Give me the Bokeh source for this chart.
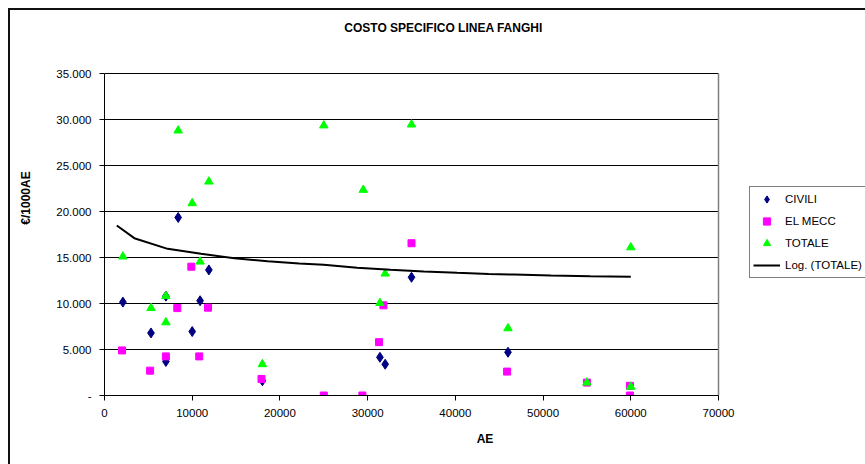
from bokeh.plotting import figure
from bokeh.models import (FixedTicker, Legend, LegendItem, Range1d, InlineStyleSheet, Label)
from bokeh.embed import file_html
from bokeh.resources import INLINE

# ---- data ----
civili_x = [2100, 5300, 7000, 7000, 8400, 10000, 10900, 11900, 18000, 31400, 32000, 35000, 46000]
civili_y = [10150, 6800, 10800, 3700, 19350, 6950, 10300, 13650, 1600, 4150, 3400, 12850, 4700]

elmecc_x = [2000, 5200, 7000, 8300, 9900, 10800, 11800, 17900, 25000, 29400, 31300, 31800, 35000,
            45900, 55000, 59900, 59900]
elmecc_y = [4900, 2700, 4250, 9500, 14000, 4250, 9550, 1800, 0, 0, 5800, 9800, 16550,
            2600, 1400, 1050, 0]

totale_x = [2100, 5300, 7000, 7000, 8400, 10000, 10900, 11900, 18000, 25000, 29500, 31400, 32000,
            35000, 46000, 55000, 60000, 60000]
totale_y = [15100, 9500, 10800, 7950, 28800, 20900, 14550, 23250, 3400, 29350, 22350, 10050, 13250,
            29450, 7300, 1400, 16100, 950]

trend_x = [1400, 3400, 7200, 11000, 14800, 18600, 22200, 25000, 28800, 32600, 36400, 40200,
           43800, 46700, 50900, 55400, 60000]
trend_y = [18480, 17100, 15940, 15400, 14920, 14600, 14350, 14200, 13880, 13660, 13480, 13330,
           13200, 13150, 13040, 12970, 12900]

y_ticks = [0, 5000, 10000, 15000, 20000, 25000, 30000, 35000]
y_tick_labels = ["-", "5.000", "10.000", "15.000", "20.000", "25.000", "30.000", "35.000"]
x_ticks = [0, 10000, 20000, 30000, 40000, 50000, 60000, 70000]

title_text = "COSTO SPECIFICO LINEA FANGHI"
x_title = "AE"
y_title = "€/1000AE"
series_names = ["CIVILI", "EL MECC", "TOTALE", "Log. (TOTALE)"]

FONT = "Liberation Sans"

# ---- layout (pixels) ----
W, H = 865, 464
PLOT_L, PLOT_R, PLOT_T, PLOT_B = 104, 718, 73, 395   # plot area in the reference
x_lo, x_hi = x_ticks[0], x_ticks[-1]
y_lo, y_hi = y_ticks[0], y_ticks[-1]
# the frame extends to the right/top edges so that legend and title are not clipped
x_end = x_hi * (W - PLOT_L) / (PLOT_R - PLOT_L)
y_end = y_hi * (PLOT_B - 0) / (PLOT_B - PLOT_T)

p = figure(width=W, height=H, output_backend="svg", toolbar_location=None,
           x_range=Range1d(x_lo, x_end), y_range=Range1d(y_lo, y_end),
           title_location=None,
           min_border_left=PLOT_L, min_border_right=0, min_border_top=0,
           min_border_bottom=H - PLOT_B)
p.background_fill_color = "white"
p.border_fill_color = "white"
p.outline_line_color = None
p.xgrid.visible = False
p.ygrid.visible = False

# horizontal gridlines limited to the plot area
p.segment(x0=[x_lo] * len(y_ticks), x1=[x_hi] * len(y_ticks), y0=y_ticks, y1=y_ticks,
          line_color="black", line_width=1)
# grey right border of the plot area
p.segment(x0=[x_hi], x1=[x_hi], y0=[y_lo], y1=[y_hi], line_color="#808080", line_width=1.5)

# axes
for ax in (p.xaxis[0], p.yaxis[0]):
    ax.axis_line_color = "black"
    ax.axis_line_width = 1
    ax.major_tick_line_color = "black"
    ax.major_tick_out = 5
    ax.major_tick_in = 0
    ax.minor_tick_line_color = None
    ax.major_label_text_font = FONT
    ax.major_label_text_font_size = "11.5px"
    ax.major_label_text_color = "black"
    ax.axis_label_text_font = FONT
    ax.axis_label_text_font_size = "12px"
    ax.axis_label_text_font_style = "bold"
    ax.axis_label_text_color = "black"

p.xaxis[0].bounds = (x_lo, x_hi)
p.xaxis[0].ticker = FixedTicker(ticks=x_ticks)
p.xaxis[0].major_label_overrides = {t: str(t) for t in x_ticks}
p.xaxis[0].axis_label = x_title
p.xaxis[0].major_label_standoff = 8
p.xaxis[0].axis_label_standoff = 12

p.yaxis[0].bounds = (y_lo, y_hi)
p.yaxis[0].ticker = FixedTicker(ticks=y_ticks)
p.yaxis[0].major_label_overrides = dict(zip(y_ticks, y_tick_labels))
p.yaxis[0].axis_label = y_title
p.yaxis[0].major_label_standoff = 8
p.yaxis[0].axis_label_standoff = 20

# glyphs
r_civ = p.scatter(civili_x, civili_y, marker="diamond", size=10, color="#000080")
r_mec = p.scatter(elmecc_x, elmecc_y, marker="square", size=7, color="#FF00FF")
r_tot = p.scatter(totale_x, totale_y, marker="triangle", size=8.5, color="#00FF00")
r_trd = p.line(trend_x, trend_y, line_color="black", line_width=2)

legend = Legend(items=[LegendItem(label=series_names[0], renderers=[r_civ]),
                       LegendItem(label=series_names[1], renderers=[r_mec]),
                       LegendItem(label=series_names[2], renderers=[r_tot]),
                       LegendItem(label=series_names[3], renderers=[r_trd])],
                location=(749 - PLOT_L, PLOT_B - 278))
legend.margin = 0
legend.label_text_font = FONT
legend.label_text_font_size = "11.5px"
legend.label_text_color = "black"
legend.glyph_width = 27
legend.glyph_height = 18
legend.label_height = 18
legend.spacing = 4
legend.padding = 3
legend.label_standoff = 5
legend.border_line_color = "black"
legend.border_line_width = 1
legend.background_fill_color = "white"
legend.background_fill_alpha = 1
p.add_layout(legend)

# chart title
p.add_layout(Label(x=443 - PLOT_L, y=PLOT_B - 27, x_units="screen", y_units="screen",
                   text=title_text, text_align="center", text_baseline="middle",
                   text_font=FONT, text_font_size="12px", text_font_style="bold",
                   text_color="black"))

# outer chart-area border (top and left edges visible in the reference)
p.stylesheets = [InlineStyleSheet(css="""
:host::after {
  content: "";
  position: absolute;
  left: 8px; top: 8px; right: 0px; bottom: 0px;
  border-left: 2px solid #111;
  border-top: 2px solid #111;
  pointer-events: none;
  z-index: 10;
}
""")]

open("out.html", "w").write(file_html(p, INLINE))
